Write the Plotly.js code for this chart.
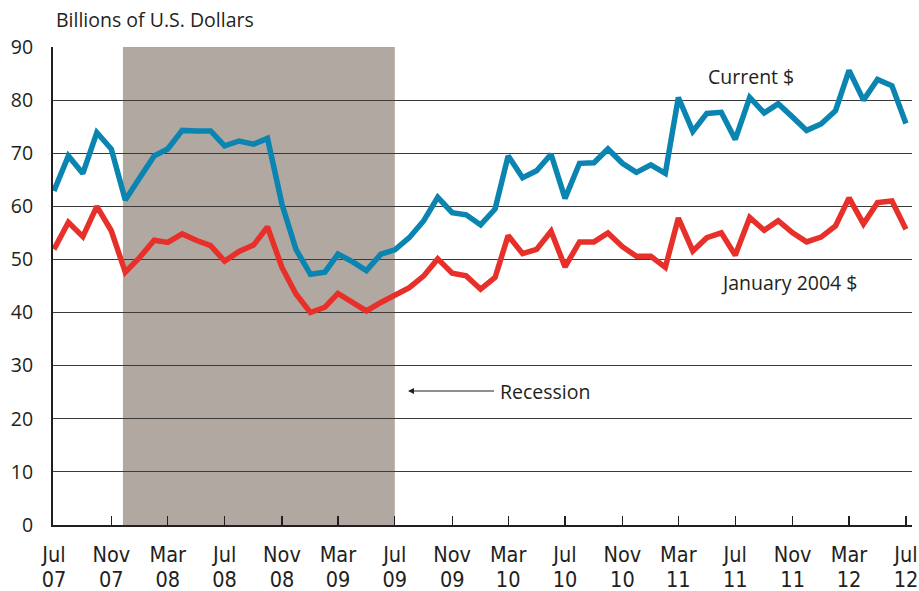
<!DOCTYPE html>
<html>
<head>
<meta charset="utf-8">
<script src="https://cdn.plot.ly/plotly-3.0.1.min.js"></script>
<style>html,body{margin:0;padding:0;background:#fff}#chart{width:919px;height:591px}</style>
</head>
<body>
<div id="chart"></div>
<script>
// Monthly dates Jul 2007 .. Jul 2012
const months = [
 '2007-07','2007-08','2007-09','2007-10','2007-11','2007-12',
 '2008-01','2008-02','2008-03','2008-04','2008-05','2008-06','2008-07','2008-08','2008-09','2008-10','2008-11','2008-12',
 '2009-01','2009-02','2009-03','2009-04','2009-05','2009-06','2009-07','2009-08','2009-09','2009-10','2009-11','2009-12',
 '2010-01','2010-02','2010-03','2010-04','2010-05','2010-06','2010-07','2010-08','2010-09','2010-10','2010-11','2010-12',
 '2011-01','2011-02','2011-03','2011-04','2011-05','2011-06','2011-07','2011-08','2011-09','2011-10','2011-11','2011-12',
 '2012-01','2012-02','2012-03','2012-04','2012-05','2012-06','2012-07'
];
const currentDollars = [
 62.9,69.5,66.2,73.9,70.8,61.2,
 65.4,69.5,70.8,74.3,74.2,74.2,71.4,72.3,71.7,72.8,60.4,51.9,
 47.2,47.6,51.0,49.6,47.9,51.0,51.8,54.1,57.3,61.7,58.8,58.4,
 56.5,59.5,69.5,65.4,66.7,69.8,61.5,68.1,68.2,70.8,68.1,66.4,
 67.8,66.2,80.5,74.1,77.5,77.7,72.6,80.5,77.6,79.3,76.8,74.3,
 75.5,78.0,85.6,80.0,83.9,82.7,75.6
];
const jan2004Dollars = [
 51.9,57.0,54.3,60.0,55.4,47.6,
 50.4,53.6,53.2,54.8,53.6,52.6,49.7,51.5,52.7,56.1,48.5,43.5,
 40.0,41.0,43.6,42.0,40.3,41.9,43.2,44.7,46.9,50.1,47.4,46.9,
 44.4,46.6,54.5,51.1,51.9,55.3,48.6,53.3,53.3,55.0,52.4,50.6,
 50.6,48.5,57.8,51.6,54.1,55.0,50.8,57.9,55.5,57.3,55.0,53.3,
 54.2,56.3,61.6,56.7,60.7,61.0,55.7
];
const tickDates = ['2007-07','2007-11','2008-03','2008-07','2008-11','2009-03','2009-07','2009-11','2010-03','2010-07','2010-11','2011-03','2011-07','2011-11','2012-03','2012-07'];
const tickMonths = ['Jul','Nov','Mar','Jul','Nov','Mar','Jul','Nov','Mar','Jul','Nov','Mar','Jul','Nov','Mar','Jul'];
const tickYears = ['07','07','08','08','08','09','09','09','10','10','10','11','11','11','12','12'];
const yTicks = [0,10,20,30,40,50,60,70,80,90];
const recessionStart = '2007-11-26';
const recessionEnd = '2009-07-01';

const FONT = 'Liberation Sans Narrow, DejaVu Sans Condensed, Open Sans, sans-serif';
const TXT = 'Open Sans, Noto Sans, sans-serif';
const INK = '#231f20';
const xRange = ['2007-06-29','2012-07-14'];

const traces = [
 {x: months, y: currentDollars, type:'scatter', mode:'lines', name:'Current $',
  line:{color:'#0a84b0', width:5.5}, xaxis:'x', yaxis:'y'},
 {x: months, y: jan2004Dollars, type:'scatter', mode:'lines', name:'January 2004 $',
  line:{color:'#e8302a', width:5.5}, xaxis:'x', yaxis:'y'},
 {x: [xRange[0]], y:[null], type:'scatter', mode:'lines', showlegend:false, xaxis:'x2', yaxis:'y', hoverinfo:'skip'}
];

const layout = {
 width: 919, height: 591,
 paper_bgcolor:'#ffffff', plot_bgcolor:'#ffffff',
 margin:{l:53, r:7, t:47, b:66},
 showlegend:false,
 title:{text:'Billions of U.S. Dollars', font:{family:TXT, size:19.5, color:INK},
        xref:'container', yref:'container', x:56/919, xanchor:'left', y:1-20/591, yanchor:'middle'},
 xaxis:{type:'date', range:xRange, tickmode:'array', tickvals:tickDates, ticktext:tickMonths,
        ticks:'inside', ticklen:9, tickwidth:1.2, tickcolor:INK,
        showline:true, linecolor:INK, linewidth:2, showgrid:false, zeroline:false,
        tickfont:{family:FONT, size:21.5, color:INK}, ticklabelstandoff:9},
 xaxis2:{type:'date', range:xRange, overlaying:'x', anchor:'y', side:'bottom', tickmode:'array',
        tickvals:tickDates, ticktext:tickYears, ticks:'', showline:false, showgrid:false, zeroline:false,
        tickfont:{family:FONT, size:21.5, color:INK}, ticklabelstandoff:39},
 yaxis:{range:[0,90], tickmode:'array', tickvals:yTicks, ticks:'', showline:true, linecolor:INK, linewidth:2,
        showgrid:true, gridcolor:'#3a3a3a', gridwidth:1.2, zeroline:false,
        tickfont:{family:TXT, size:19.5, color:INK}, ticklabelstandoff:14},
 shapes:[
  {type:'rect', xref:'x', yref:'paper', x0:recessionStart, x1:recessionEnd, y0:0, y1:1,
   fillcolor:'#b2a8a2', line:{width:0}, layer:'below'}
 ],
 annotations:[
  {text:'Current $', xref:'paper', yref:'paper', x:(751-53)/859, y:(525-76)/478, xanchor:'center', yanchor:'middle',
   showarrow:false, font:{family:TXT, size:19.5, color:INK}},
  {text:'January 2004 $', xref:'paper', yref:'paper', x:(789-53)/859, y:(525-282)/478, xanchor:'center', yanchor:'middle',
   showarrow:false, font:{family:TXT, size:19.5, color:INK}},
  {text:'Recession', xref:'paper', yref:'paper', x:(408-53)/859, y:(525-391)/478, xanchor:'left', yanchor:'middle',
   showarrow:true, arrowhead:2, arrowsize:1, arrowwidth:1.2, arrowcolor:INK, ax:90, ay:0,
   standoff:0, startstandoff:4, font:{family:TXT, size:19.5, color:INK}}
 ]
};

Plotly.newPlot('chart', traces, layout, {displayModeBar:false, staticPlot:true});
</script>
</body>
</html>
